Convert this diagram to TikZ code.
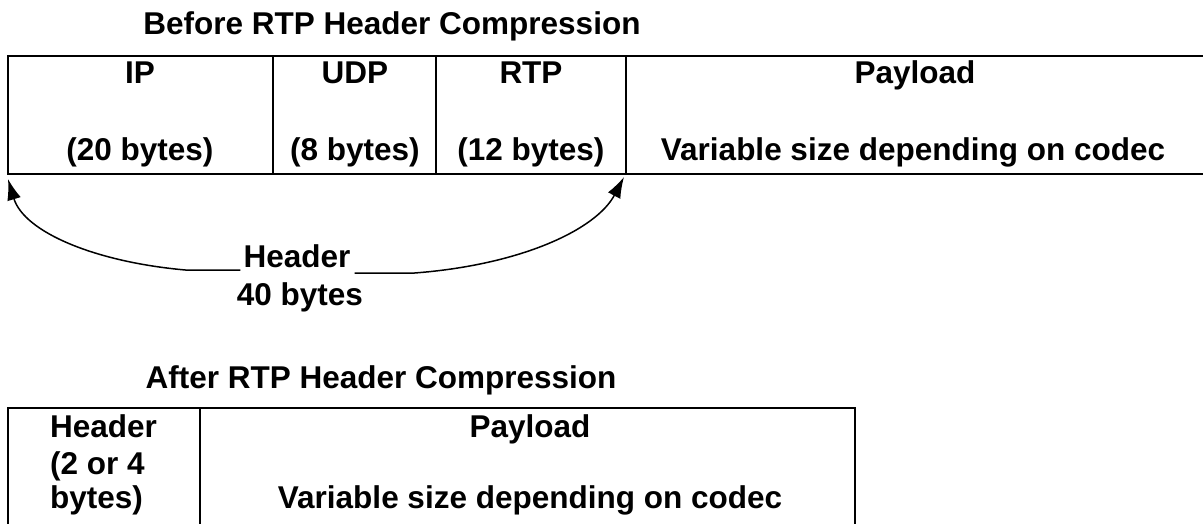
\documentclass[tikz,border=0pt]{standalone}
\usepackage{fontspec}
\setmainfont{Liberation Sans}
\usetikzlibrary{arrows.meta}
\begin{document}
\begin{tikzpicture}[x=1pt,y=-1pt,
  cell/.style={draw,line width=2pt,inner sep=0pt,outer sep=0pt,anchor=north west,minimum height=#1},
  lbl/.style={font=\bfseries\fontsize{31.5}{33}\selectfont,inner sep=0pt,anchor=base},
  lbll/.style={lbl,anchor=base west},
  arr/.style={line width=1.5pt,-{Latex[length=21pt,width=14pt]}}]
\useasboundingbox (0,0) rectangle (1203,524);
% before
\node[lbl] (t1) at (392,35) {Before RTP Header Compression};
\node[cell=118pt,minimum width=265pt] (ip) at (8,56) {};
\node[cell=118pt,minimum width=163pt] (udp) at (273,56) {};
\node[cell=118pt,minimum width=190pt,line width=2.6pt] (rtp) at (436,56) {};
\node[cell=118pt,minimum width=590pt] (pay) at (626,56) {};
\node[lbl] (ipa) at (140,84) {IP};
\node[lbl] (ipb) at (140,161) {(20 bytes)};
\node[lbl] (udpa) at (355,84) {UDP};
\node[lbl] (udpb) at (355,161) {(8 bytes)};
\node[lbl] (rtpa) at (531,84) {RTP};
\node[lbl] (rtpb) at (531,161) {(12 bytes)};
\node[lbl] (paya) at (915,84) {Payload};
\node[lbl] (payb) at (913,161) {Variable size depending on codec};
\node[lbl] (hdr) at (297,267) {Header};
\node[lbl] (forty) at (300,305) {40 bytes};
\draw[arr] ([xshift=-3pt,yshift=-3pt]hdr.base west) -- ++(-55,0)
  .. controls (95,262) and (24,232) .. ([yshift=-5pt]ip.south west);
\draw[arr] ([xshift=4pt,yshift=-6pt]hdr.base east) -- ++(60,0)
  .. controls (520,265) and (596,230) .. ([xshift=-2pt,yshift=-3pt]rtp.south east);
% after
\node[lbl] (t2) at (381,388) {After RTP Header Compression};
\node[cell=125pt,minimum width=192pt] (hd) at (8,408) {};
\node[cell=125pt,minimum width=655pt] (pl) at (200,408) {};
\node[lbll] (hda) at (50,437) {Header};
\node[lbll] (hdb) at (50,474) {(2 or 4};
\node[lbll] (hdc) at (50,508) {bytes)};
\node[lbl] (pla) at (530,437) {Payload};
\node[lbl] (plb) at (530,508) {Variable size depending on codec};
\end{tikzpicture}
\end{document}
